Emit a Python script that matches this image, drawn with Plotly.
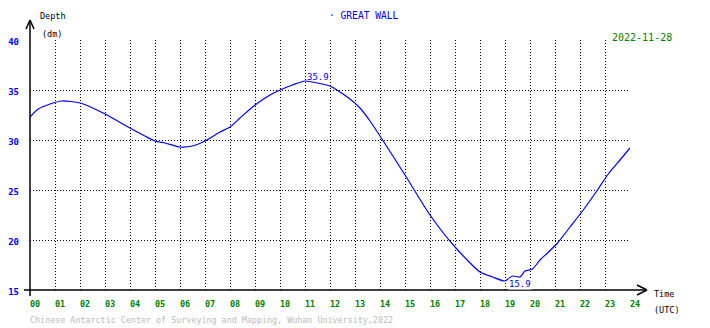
import plotly.graph_objects as go

# Tide depth (dm) at Great Wall station, 2022-11-28 (UTC hours)
hours = [0.0, 0.33, 0.8, 1.27, 2.0, 3.0, 4.0, 5.0, 5.4, 6.0, 6.5, 7.0, 7.6, 8.0, 8.4,
         9.0, 9.6, 10.0, 10.5, 11.0, 11.5, 12.0, 12.4, 12.8, 13.2, 13.6, 14.0, 15.0, 16.0,
         17.0, 18.0, 18.5, 19.0, 19.3, 19.6, 19.8, 20.1, 20.4, 20.7, 21.1, 21.6, 22.1,
         22.7, 23.1, 23.6, 24.0]
depth = [32.3, 33.1, 33.6, 33.9, 33.7, 32.6, 31.2, 29.9, 29.7, 29.3, 29.4, 29.9, 30.8, 31.3, 32.2,
         33.5, 34.5, 35.0, 35.5, 35.9, 35.7, 35.4, 34.8, 34.1, 33.2, 31.9, 30.4, 26.5, 22.5,
         19.3, 16.8, 16.3, 15.9, 16.4, 16.3, 16.9, 17.1, 18.0, 18.7, 19.7, 21.3, 22.9,
         25.0, 26.5, 28.0, 29.2]

x_ticks = list(range(0, 25))
x_ticktext = [f"{h:02d}" for h in x_ticks]
y_ticks = [15, 20, 25, 30, 35, 40]

station = "GREAT WALL"
date_text = "2022-11-28"
footer = "Chinese Antarctic Center of Surveying and Mapping, Wuhan University,2022"

MONO = "DejaVu Sans Mono"
BLUE = "#0000ff"
GREEN = "#008000"

fig = go.Figure()
fig.add_trace(go.Scatter(x=hours, y=depth, mode="lines",
                         line=dict(color=BLUE, width=1.2, shape="spline", smoothing=0.6),
                         hoverinfo="skip", showlegend=False))

imax = depth.index(max(depth))
imin = depth.index(min(depth))

fig.update_layout(
    width=710, height=328,
    margin=dict(l=30, r=80, t=40, b=38, autoexpand=False),
    paper_bgcolor="white", plot_bgcolor="white",
    showlegend=False,
    xaxis=dict(range=[0, 24], tickvals=x_ticks, ticktext=x_ticktext, automargin=False,
               showgrid=True, gridcolor="black", gridwidth=1, griddash="1px,2px",
               zeroline=False, showline=False, ticks="",
               tickfont=dict(family=MONO, size=8.5, color=GREEN, weight="bold"),
               ticklabelshift=5, ticklabelstandoff=7),
    yaxis=dict(range=[15, 40], tickvals=y_ticks, automargin=False,
               showgrid=True, gridcolor="black", gridwidth=1, griddash="1px,2px",
               zeroline=False, showline=False, ticks="",
               tickfont=dict(family=MONO, size=9, color=BLUE, weight="bold"),
               ticklabelstandoff=10, ticklabelshift=2),
)

# axes with arrows (paper coords: x px = 30 + 600*x, y px = 290 - 250*y)
def px(xp, yp):
    return (xp - 30) / 600.0, (290 - yp) / 250.0

shapes = []
def seg(a, b):
    x0, y0 = px(*a)
    x1, y1 = px(*b)
    shapes.append(dict(type="line", xref="paper", yref="paper", x0=x0, y0=y0, x1=x1, y1=y1,
                       line=dict(color="black", width=1.5), layer="above"))

seg((30, 296), (30, 20))
seg((30, 20), (26, 29))
seg((30, 20), (34, 29))
seg((24, 290), (647, 290))
seg((647, 290), (637, 285))
seg((647, 290), (637, 295))
fig.update_layout(shapes=shapes)

def ann(text, xpix, ypix, color, size, anchor="left", bg=None, weight="normal"):
    x, y = px(xpix, ypix)
    fig.add_annotation(text=text, x=x, y=y, xref="paper", yref="paper", showarrow=False,
                       xanchor=anchor, yanchor="middle",
                       font=dict(family=MONO, size=size, color=color, weight=weight),
                       bgcolor=bg, borderpad=0)

ann("Depth", 39, 16, "black", 8.5)
ann("(dm)", 41, 34, "black", 8.5)
ann("Time", 653, 294, "black", 8.5)
ann("(UTC)", 653, 310, "black", 8.5)
ann("· " + station, 328, 16, BLUE, 9.6)
ann(date_text, 611, 37, GREEN, 10, bg="white")
ann(footer, 29, 320, "#bbbbbb", 8.4)

# max / min labels
fig.add_annotation(x=hours[imax], y=depth[imax], text=f"{depth[imax]:.1f}", showarrow=False,
                   xanchor="left", yanchor="middle", yshift=4,
                   font=dict(family=MONO, size=9, color=BLUE))
fig.add_annotation(x=hours[imin], y=depth[imin], text=f"{depth[imin]:.1f}", showarrow=False,
                   xanchor="left", yanchor="middle", xshift=3, yshift=-3,
                   font=dict(family=MONO, size=9, color=BLUE), bgcolor="white", borderpad=0)

fig.write_html("out.html")
